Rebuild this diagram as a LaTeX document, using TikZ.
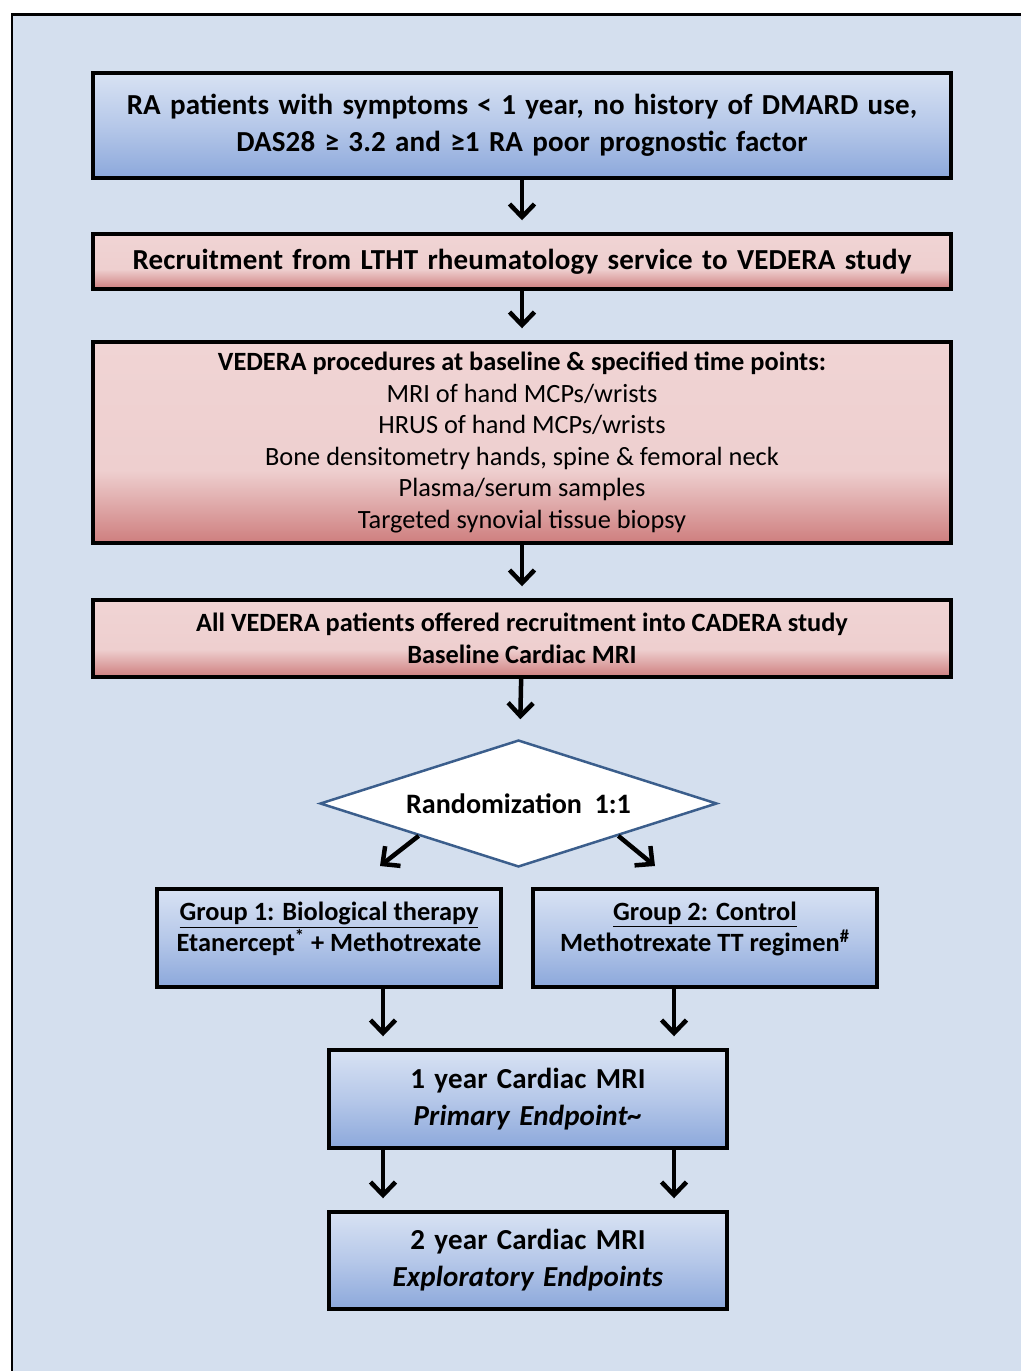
\documentclass[tikz,border=0pt]{standalone}
\usepackage{fontspec}
\setmainfont{Carlito}
\newfontfamily\widefamily[LetterSpace=0.5,WordSpace=1.4]{Carlito}
\usetikzlibrary{arrows.meta,shapes.geometric,calc}
\definecolor{backdrop}{HTML}{D4DFEE}
\definecolor{bluetop}{HTML}{D8E2F3}
\definecolor{bluemid}{HTML}{B6C8E9}
\definecolor{bluebot}{HTML}{8CA8DB}
\definecolor{pinktop}{HTML}{F0D4D4}
\definecolor{pinkbot}{HTML}{CE7E7E}
\definecolor{dianavy}{HTML}{3B5E8C}
\pgfdeclareverticalshading{blueshade}{100bp}{color(0bp)=(bluebot); color(25bp)=(bluebot); color(50bp)=(bluemid); color(75bp)=(bluetop); color(100bp)=(bluetop)}
\pgfdeclareverticalshading{pinkshade}{100bp}{color(0bp)=(pinkbot); color(25bp)=(pinkbot); color(43bp)=(pinktop!94!pinkbot); color(75bp)=(pinktop); color(100bp)=(pinktop)}

\begin{document}
\begin{tikzpicture}[
  x=0.02cm, y=-0.02cm,
  flowbox/.style={draw=black, line width=0.07cm, align=center, inner sep=0pt},
  bluebox/.style={flowbox, shade, shading=blueshade},
  pinkbox/.style={flowbox, shade, shading=pinkshade},
  widefont/.style={font=\widefamily\fontsize{16.5}{21}\selectfont\bfseries},
  groupfont/.style={font=\fontsize{15}{18}\selectfont\bfseries, text depth=0.45cm},
  decision/.style={diamond, draw=dianavy, fill=white, line width=0.05cm, shape aspect=3.1, inner sep=0pt,
    minimum width=7.94cm, minimum height=2.54cm, font=\fontsize{16}{19}\selectfont\bfseries},
  flow/.style={line width=0.09cm, -{Straight Barb[length=0.26cm,width=0.5cm]}, shorten >=0.24cm}
]
\useasboundingbox (0,0) rectangle (1021,1371);
\fill[backdrop] (12,15) rectangle (1021,1371);
\draw[line width=0.06cm] (12,1371) -- (12,15) -- (1021,15);

\node[bluebox, widefont, minimum width=17.16cm, minimum height=2.1cm] (inclusion) at (522,125.5)
  {RA patients with symptoms < 1 year, no history of DMARD use,\\ DAS28 ≥ 3.2 and ≥1 RA poor prognostic factor};

\node[pinkbox, widefont, minimum width=17.16cm, minimum height=1.1cm] (recruit) at (522,261.5)
  {Recruitment from LTHT rheumatology service to VEDERA study};

\node[pinkbox, minimum width=17.16cm, minimum height=4.02cm, font=\fontsize{15}{18}\selectfont] (vedera) at (522,442.5)
  {\textbf{VEDERA procedures at baseline \& specified time points:}\\
   MRI of hand MCPs/wrists\\
   HRUS of hand MCPs/wrists\\
   Bone densitometry hands, spine \& femoral neck\\
   Plasma/serum samples\\
   Targeted synovial tissue biopsy};

\node[pinkbox, minimum width=17.16cm, minimum height=1.54cm, font=\fontsize{15}{18.5}\selectfont\bfseries] (cadera) at (522,638.5)
  {All VEDERA patients offered recruitment into CADERA study\\ Baseline Cardiac MRI};

\node[decision] (random) at (518.5,803.5) {Randomization\ \ 1:1};

\node[bluebox, groupfont, minimum width=6.88cm, minimum height=1.96cm] (group1) at (329,938)
  {\underline{Group 1: Biological therapy}\\ Etanercept\textsuperscript{*} + Methotrexate};
\node[bluebox, groupfont, minimum width=6.88cm, minimum height=1.96cm] (group2) at (705,938)
  {\underline{Group 2: Control}\\ Methotrexate TT regimen\textsuperscript{\#}};

\node[bluebox, widefont, minimum width=7.96cm, minimum height=1.96cm] (year1) at (528,1099)
  {1 year Cardiac MRI\\ \textit{Primary Endpoint\textasciitilde}};
\node[bluebox, widefont, minimum width=7.96cm, minimum height=1.94cm] (year2) at (528,1260.5)
  {2 year Cardiac MRI\\ \textit{Exploratory Endpoints}};

% arrows down the main column
\draw[flow] (inclusion) -- (recruit);
\draw[flow] (recruit) -- (vedera);
\draw[flow] (vedera) -- (cadera);
\draw[flow, shorten >=0.4cm] (cadera) -- (random);

% split after randomization
\coordinate (left end) at (380,866);
\coordinate (right end) at (655,866);
\draw[flow, shorten >=0pt] (random.south west) -- (left end);
\draw[flow, shorten >=0pt] (random.south east) -- (right end);

% two columns into the follow-up boxes
\coordinate (col1) at (383,0);
\coordinate (col2) at (674,0);
\draw[flow] (group1.south -| col1) -- (year1.north -| col1);
\draw[flow] (group2.south -| col2) -- (year1.north -| col2);
\draw[flow] (year1.south -| col1) -- (year2.north -| col1);
\draw[flow] (year1.south -| col2) -- (year2.north -| col2);
\end{tikzpicture}
\end{document}
